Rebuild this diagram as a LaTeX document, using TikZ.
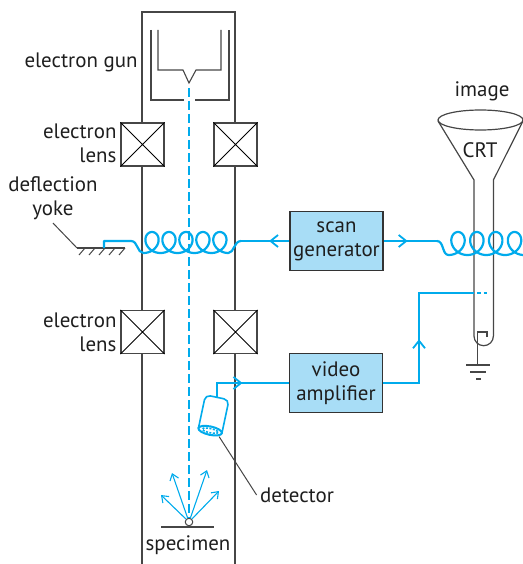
\documentclass[tikz,border=0pt]{standalone}
\usepackage{fontspec}
\setmainfont{PT Sans}
\usetikzlibrary{arrows.meta, positioning, decorations.markings}
\definecolor{beamcyan}{RGB}{0, 171, 236}
\definecolor{boxblue}{RGB}{168, 221, 246}
\definecolor{framegray}{RGB}{70, 70, 70}
\definecolor{labelgray}{RGB}{30, 30, 30}

\begin{document}
\begin{tikzpicture}[x=1bp, y=-1bp,
  font=\fontsize{21}{24}\selectfont, text=labelgray,
  wall/.style={framegray, line width=1.2bp},
  leader/.style={framegray, line width=1bp},
  wire/.style={beamcyan, line width=1.8bp},
  coil/.style={beamcyan, line width=2.2bp, line join=round},
  lensbox/.style={draw=framegray, fill=white, line width=1.2bp, minimum size=43bp, inner sep=0pt},
  unitbox/.style={draw=black!80, fill=boxblue, line width=1.2bp, minimum width=93bp,
    minimum height=59bp, align=center, inner sep=0pt},
  midarrow/.style={postaction={decorate, decoration={markings,
    mark=at position #1 with {\arrow{Straight Barb[length=7.5bp, width=12bp]}}}}}]
  \useasboundingbox (0,0) rectangle (523,564);

  % column walls
  \draw[wall] (142,564) -- (142,12) -- (235,12) -- (235,564);

  % electron gun
  \draw[wall, line width=1.1bp] (151,30) -- (151,100) -- (184,100) (195,100) -- (229,100) -- (229,30);
  \draw[wall, line width=1.1bp] (158,30) -- (158,70) -- (183,70) -- (189,83) -- (196,70) -- (221,70) -- (221,30);
  \node[anchor=base east] (gunlabel) at (141,68) {electron gun};

  % specimen and beam
  \node[circle, draw=framegray, fill=white, line width=1bp, minimum size=7.5bp, inner sep=0pt] (spec) at (189,522) {};
  \coordinate (gun) at (189,88);
  \draw[beamcyan, line width=1.5bp, dash pattern=on 9bp off 4bp] (gun) -- (spec.north);
  \draw[wall] (161,527) -- (214,527);
  \foreach \tx/\ty in {161/495, 172/473, 207/470, 219/491}
    \draw[beamcyan, line width=1.1bp, -{Straight Barb[length=6bp, width=9bp]}] (spec) -- (\tx,\ty);
  \node (speclabel) at (188,545) {specimen};

  % lenses
  \foreach \n/\x/\y in {lensA/142.5/144.5, lensB/235.5/144.5, lensC/142.5/332, lensD/235.5/332} {
    \node[lensbox] (\n) at (\x,\y) {};
    \draw[black, line width=0.8bp] (\n.north west) -- (\n.south east) (\n.south west) -- (\n.north east);
  }
  \node[anchor=east, align=right] (lenslabelA) at (120,143) {electron\\lens};
  \node[anchor=east, align=right] (lenslabelC) at (120,332) {electron\\lens};

  % deflection yoke with its mount
  \coordinate (gndL) at (77,248);
  \coordinate (yoke) at (104,248);
  \draw[wall] (gndL) -- (125,248);
  \foreach \hx in {85,95,...,125}
    \draw[leader] (\hx,248) -- ++(-6,7);
  \node[align=center] (yokelabel) at (53,198) {deflection\\yoke};
  \draw[leader] (yokelabel.south) -- (gndL);
  \draw[coil] (yoke) -- (104,241) -- (131,241) .. controls (138,241) and (137,253) .. (143.5,253)
    -- plot[domain=-3.1416:28.2743, samples=320, smooth] ({152+2.7*\x-10.5*sin(\x r)}, {242.5-10.5*cos(\x r)})
    .. controls (234,253) and (234,241) .. (241,241) coordinate (coilR);

  % scan generator
  \node[unitbox] (scangen) at (336.5,241) {scan\\generator};
  \draw[wire, midarrow=0.42] (scangen.west) -- (coilR);

  % CRT
  \node (imglabel) at (482,91) {image};
  \draw[wall] (480.5,120) ellipse [x radius=42.5, y radius=10];
  \draw[wall] (438,121) -- (474,180) -- (474,336) arc[start angle=180, end angle=0, radius=9.7]
    -- (493.4,180) -- (523,121);
  \node (crtlabel) at (480,150) {CRT};
  \draw[wall] (487,337) -- (487,332) -- (477.3,332) -- (477.3,365);
  \draw[wall] (466,365) -- (490,365) (470,372) -- (486,372) (476,379) -- (481,379);
  \coordinate (crtcoil) at (437,241);
  \draw[wire, midarrow=0.45] (scangen.east) -- (crtcoil);
  \draw[coil] (crtcoil) .. controls (444,241) and (442,255) .. (448.6,255)
    -- plot[domain=-3.1416:25.13, samples=300, smooth] ({458+3*\x-11*sin(\x r)}, {243.5-11.5*cos(\x r)});

  % detector
  \begin{scope}[shift={(213.5,415)}, rotate=-12]
    \draw[beamcyan, line width=1.6bp, fill=white, rounded corners=5bp] (-12,16) -- (-12,-18) -- (12,-18) -- (12,16);
    \draw[beamcyan, line width=2bp, fill=white] (0,16) ellipse [x radius=12, y radius=4.2];
    \draw[beamcyan, line width=1.6bp, dash pattern=on 2bp off 1.5bp] (0,16) ellipse [x radius=8, y radius=2.1];
    \coordinate (dettop) at (0,-18);
    \coordinate (detfoot) at (10,20);
  \end{scope}
  \node (detlabel) at (297,495) {detector};
  \draw[leader] (detfoot) -- (detlabel.west);

  % video amplifier
  \node[unitbox] (videoamp) at (336,383) {video\\amplifier};
  \draw[wire, midarrow=0.46] (dettop) |- (videoamp.west);
  \coordinate (grid) at (474,293);
  \draw[wire, midarrow=0.44] (videoamp.east) -| (419,293) -- (grid);
  \draw[wire, line width=1.5bp, dash pattern=on 4bp off 2.5bp] (477,293) -- (487,293);
\end{tikzpicture}
\end{document}
